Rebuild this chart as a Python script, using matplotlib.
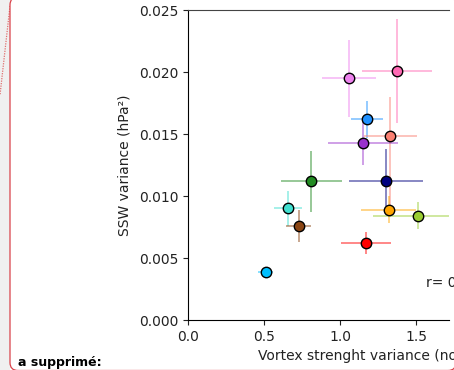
import matplotlib
matplotlib.use("Agg")
import matplotlib.pyplot as plt
from matplotlib.patches import Rectangle, FancyBboxPatch
from matplotlib.lines import Line2D

# ---- data ----
colors = ["violet", "hotpink", "dodgerblue", "salmon", "darkorchid", "forestgreen",
          "navy", "turquoise", "saddlebrown", "orange", "yellowgreen", "red", "deepskyblue"]
vortex_var = [1.06, 1.375, 1.18, 1.33, 1.15, 0.81, 1.30, 0.66, 0.73, 1.32, 1.51, 1.17, 0.51]
ssw_var = [0.0195, 0.0201, 0.0162, 0.0148, 0.0143, 0.0112, 0.0112, 0.0090, 0.0076, 0.0089, 0.0084, 0.0062, 0.0039]
x_err = [0.177, 0.23, 0.105, 0.175, 0.23, 0.20, 0.243, 0.093, 0.082, 0.18, 0.29, 0.165, 0.047]
y_err_low = [0.0031, 0.0042, 0.0015, 0.0055, 0.0018, 0.0025, 0.0020, 0.0014, 0.0013, 0.0011, 0.0011, 0.0009, 0.0004]
y_err_high = [0.0031, 0.0042, 0.0015, 0.0032, 0.0018, 0.0024, 0.0026, 0.0014, 0.0013, 0.0011, 0.0011, 0.0009, 0.0004]
x_ticks = [0.0, 0.5, 1.0, 1.5]
x_tick_labels = ["0.0", "0.5", "1.0", "1.5"]
y_ticks = [0.0, 0.005, 0.010, 0.015, 0.020, 0.025]
y_tick_labels = ["0.000", "0.005", "0.010", "0.015", "0.020", "0.025"]
r_text = "r= 0.64"

W, H = 454, 370
fig = plt.figure(figsize=(W / 100, H / 100), dpi=100)
fig.patch.set_facecolor("white")

def fx(px):
    return px / W

def fy(py):
    return 1 - py / H

def inch_x(px):
    return px / 100.0

def inch_y(py):
    return (H - py) / 100.0

# document margin decorations (drawn beneath the axes)
fig.patches.append(Rectangle((0, 0), fx(10), 1, transform=fig.transFigure,
                             facecolor="#f0f0f0", edgecolor="none", zorder=-2))
box_l, box_r, box_t, box_b = 10, 456, -3, 370.5
fig.patches.append(FancyBboxPatch((inch_x(box_l), inch_y(box_b)),
                                  inch_x(box_r) - inch_x(box_l), inch_y(box_t) - inch_y(box_b),
                                  boxstyle="round,pad=0,rounding_size=0.08",
                                  transform=fig.dpi_scale_trans, facecolor="white",
                                  edgecolor="#d9424a", linewidth=0.9, zorder=-1))
fig.lines.append(Line2D([fx(10), fx(0)], [fy(6), fy(95)], transform=fig.transFigure,
                        color="#e07070", linestyle=(0, (1, 1)), linewidth=0.9, zorder=-1))
fig.text(fx(18), fy(366), "a supprimé:", fontsize=9, fontweight="bold",
         ha="left", va="baseline", color="black")

# axes: x from 188px (0) to 449px, y from 320px (0) to 10px (0.025)
x_right = (449 - 188) / 152.0
ax = fig.add_axes([fx(188), fy(320), fx(449) - fx(188), fy(10) - fy(320)])
ax.set_zorder(1)
ax.patch.set_alpha(0)
ax.set_xlim(0, x_right)
ax.set_ylim(0, 0.025)
ax.spines["right"].set_visible(False)
ax.spines["top"].set_color("#444444")

for i in range(len(colors)):
    ax.errorbar(vortex_var[i], ssw_var[i], xerr=x_err[i],
                yerr=[[y_err_low[i]], [y_err_high[i]]],
                fmt="none", ecolor=colors[i], elinewidth=1.2, alpha=0.55,
                capsize=0, zorder=2)
    ax.plot(vortex_var[i], ssw_var[i], "o", color=colors[i], markersize=7.5,
            markeredgecolor="black", markeredgewidth=1.0, zorder=3)

ax.set_xticks(x_ticks)
ax.set_xticklabels(x_tick_labels)
ax.set_yticks(y_ticks)
ax.set_yticklabels(y_tick_labels)
ax.tick_params(labelsize=10, colors="#222222", labelcolor="#222222")
ax.set_ylabel("SSW variance (hPa²)", fontsize=10, color="#222222", labelpad=5)

fig.text(fx(258), fy(356), "Vortex strenght variance (nondim)", fontsize=10,
         ha="left", va="center", color="#222222")
fig.text(fx(426), fy(283), r_text, fontsize=10, ha="left", va="center", color="#222222")

fig.savefig("out.png", dpi=100, facecolor="white")
